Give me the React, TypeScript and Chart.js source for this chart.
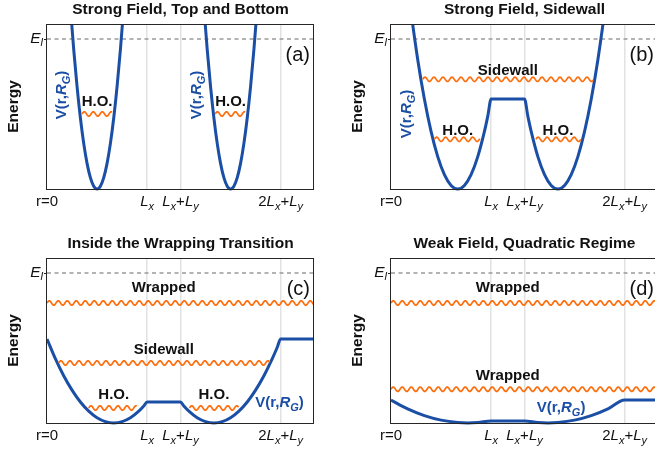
import React, { useEffect, useRef } from 'react';
import { Chart, registerables } from 'chart.js';

Chart.register(...registerables);

type Seg = { t: string; i?: boolean; sub?: boolean };

const BLUE = '#1b4fa5';
const ORANGE = '#ff6e0d';
const FONT = '"Liberation Sans", Arial, Helvetica, sans-serif';

// r axis in units where Lx = 3, Ly = 1 (perimeter 2Lx + 2Ly = 8)
const R_MIN = 0;
const R_MAX = 8;
const E_MAX = 1.1;
const E_L = 1.0;
const GRID_R = [3, 4, 7];
const TICK_R = [0, 3, 4, 7];
const TICK_TEXT: Seg[][] = [
  [{ t: 'r=0' }],
  [{ t: 'L', i: true }, { t: 'x', i: true, sub: true }],
  [{ t: 'L', i: true }, { t: 'x', i: true, sub: true }, { t: '+' }, { t: 'L', i: true }, { t: 'y', i: true, sub: true }],
  [{ t: '2' }, { t: 'L', i: true }, { t: 'x', i: true, sub: true }, { t: '+' }, { t: 'L', i: true }, { t: 'y', i: true, sub: true }],
];
const EL_TEXT: Seg[] = [{ t: 'E', i: true }, { t: 'l', i: true, sub: true }];
const V_TEXT: Seg[] = [{ t: 'V(r,' }, { t: 'R', i: true }, { t: 'G', i: true, sub: true }, { t: ')' }];

// potential V(r, R_G): [r, energy]
const vA1: [number, number][] = [
  [0.7, 1.216], [0.8, 0.931], [0.9, 0.684], [1.0, 0.475], [1.1, 0.304], [1.2, 0.171], [1.3, 0.076], [1.4, 0.019],
  [1.5, 0], [1.6, 0.019], [1.7, 0.076], [1.8, 0.171], [1.9, 0.304], [2.0, 0.475], [2.1, 0.684], [2.2, 0.931], [2.3, 1.216],
];
const vA2: [number, number][] = [
  [4.7, 1.216], [4.8, 0.931], [4.9, 0.684], [5.0, 0.475], [5.1, 0.304], [5.2, 0.171], [5.3, 0.076], [5.4, 0.019],
  [5.5, 0], [5.6, 0.019], [5.7, 0.076], [5.8, 0.171], [5.9, 0.304], [6.0, 0.475], [6.1, 0.684], [6.2, 0.931], [6.3, 1.216],
];
const vB: [number, number][] = [
  [0.6, 1.176], [0.8, 0.864], [1.0, 0.6], [1.2, 0.384], [1.4, 0.216], [1.6, 0.096], [1.8, 0.024], [2.0, 0],
  [2.2, 0.024], [2.4, 0.096], [2.6, 0.216], [2.8, 0.384], [2.9, 0.486], [3.0, 0.6], [4.0, 0.6], [4.1, 0.486],
  [4.2, 0.384], [4.4, 0.216], [4.6, 0.096], [4.8, 0.024], [5.0, 0], [5.2, 0.024], [5.4, 0.096], [5.6, 0.216],
  [5.8, 0.384], [6.0, 0.6], [6.2, 0.864], [6.4, 1.176],
];
const vC: [number, number][] = [
  [0, 0.56], [0.25, 0.429], [0.5, 0.315], [0.75, 0.219], [1.0, 0.14], [1.25, 0.079], [1.5, 0.035], [1.75, 0.009],
  [2.0, 0], [2.25, 0.009], [2.5, 0.035], [2.75, 0.079], [2.9, 0.113], [3.0, 0.14], [4.0, 0.14], [4.1, 0.113],
  [4.25, 0.079], [4.5, 0.035], [4.75, 0.009], [5.0, 0], [5.25, 0.009], [5.5, 0.035], [5.75, 0.079], [6.0, 0.14],
  [6.25, 0.219], [6.5, 0.315], [6.75, 0.429], [6.9, 0.505], [7.0, 0.56], [8.0, 0.56],
];
const vD: [number, number][] = [
  [0, 0.153], [0.5, 0.094], [1.0, 0.049], [1.5, 0.019], [2.0, 0.003], [2.3, 0], [2.6, 0.003], [3.0, 0.014],
  [4.0, 0.014], [4.4, 0.003], [4.7, 0], [5.0, 0.003], [5.5, 0.019], [6.0, 0.049], [6.5, 0.094], [7.0, 0.153], [8.0, 0.153],
];

// wavy energy levels: [energy, r from, r to]
const wavesA: [number, number, number][] = [[0.5, 1.05, 1.95], [0.5, 5.04, 5.94]];
const wavesB: [number, number, number][] = [[0.731, 0.95, 6.07], [0.331, 1.3, 2.67], [0.331, 4.34, 5.7]];
const wavesC: [number, number, number][] = [[0.8, 0, 8], [0.4, 0.35, 6.68], [0.1, 1.25, 2.7], [0.1, 4.27, 5.74]];
const wavesD: [number, number, number][] = [[0.8, 0, 8], [0.225, 0, 8]];

// level names: [text, r centre, energy of baseline]
const namesA: [string, number, number][] = [['H.O.', 1.5, 0.553], ['H.O.', 5.5, 0.553]];
const namesB: [string, number, number][] = [['Sidewall', 3.5, 0.76], ['H.O.', 2.0, 0.36], ['H.O.', 5.0, 0.36]];
const namesC: [string, number, number][] = [['Wrapped', 3.5, 0.873], ['Sidewall', 3.5, 0.462], ['H.O.', 2.0, 0.16], ['H.O.', 5.0, 0.16]];
const namesD: [string, number, number][] = [['Wrapped', 3.5, 0.873], ['Wrapped', 3.5, 0.287]];

// V(r,R_G) label anchors: [r, energy, rotated]
const vLabA: [number, number, boolean][] = [[0.57, 0.627, true], [4.62, 0.627, true]];
const vLabB: [number, number, boolean][] = [[0.6, 0.5, true]];
const vLabC: [number, number, boolean][] = [[6.24, 0.105, false]];
const vLabD: [number, number, boolean][] = [[4.37, 0.075, false]];

type PanelDef = {
  title: string;
  letter: string;
  left: number;
  top: number;
  h: number;
  v: [number, number][][];
  waves: [number, number, number][];
  names: [string, number, number][];
  vLabels: [number, number, boolean][];
};

const CANVAS_W = 327;
const PLOT_L = 47;
const PLOT_T = 24;
const PLOT_W = 267;
const PLOT_H = 165;

const PANELS: PanelDef[] = [
  { title: 'Strong Field, Top and Bottom', letter: '(a)', left: 0, top: 0, h: 226, v: [vA1, vA2], waves: wavesA, names: namesA, vLabels: vLabA },
  { title: 'Strong Field, Sidewall', letter: '(b)', left: 344, top: 0, h: 226, v: [vB], waves: wavesB, names: namesB, vLabels: vLabB },
  { title: 'Inside the Wrapping Transition', letter: '(c)', left: 0, top: 234, h: 219, v: [vC], waves: wavesC, names: namesC, vLabels: vLabC },
  { title: 'Weak Field, Quadratic Regime', letter: '(d)', left: 344, top: 234, h: 219, v: [vD], waves: wavesD, names: namesD, vLabels: vLabD },
];

function segFont(s: Seg, size: number, bold: boolean) {
  const sz = s.sub ? Math.round(size * 0.72) : size;
  return `${s.i ? 'italic ' : ''}${bold ? 'bold ' : ''}${sz}px ${FONT}`;
}

function richWidth(ctx: CanvasRenderingContext2D, segs: Seg[], size: number, bold: boolean) {
  let w = 0;
  for (const s of segs) {
    ctx.font = segFont(s, size, bold);
    w += ctx.measureText(s.t).width;
  }
  return w;
}

function drawRich(
  ctx: CanvasRenderingContext2D, segs: Seg[], x: number, y: number, size: number, bold: boolean,
  align: 'left' | 'center' | 'right', baseline: CanvasTextBaseline = 'alphabetic'
) {
  const w = richWidth(ctx, segs, size, bold);
  let cx = align === 'center' ? x - w / 2 : align === 'right' ? x - w : x;
  ctx.textAlign = 'left';
  ctx.textBaseline = baseline;
  for (const s of segs) {
    ctx.font = segFont(s, size, bold);
    ctx.fillText(s.t, cx, y + (s.sub ? size * 0.27 : 0));
    cx += ctx.measureText(s.t).width;
  }
}

function drawWave(ctx: CanvasRenderingContext2D, x1: number, x2: number, y: number) {
  const amp = 2.2;
  const wl = 9;
  ctx.beginPath();
  let first = true;
  for (let px = x1; px <= x2 + 0.01; px += 0.5) {
    const yy = y - amp * Math.sin((2 * Math.PI * (px - x1)) / wl);
    if (first) { ctx.moveTo(px, yy); first = false; } else ctx.lineTo(px, yy);
  }
  ctx.stroke();
}

function makeDecor(p: PanelDef) {
  return {
    id: 'decor',
    afterDatasetsDraw(chart: any) {
      const { ctx, chartArea: ca } = chart;
      const xs = chart.scales.x;
      const ys = chart.scales.y;
      ctx.save();
      // waves
      ctx.save();
      ctx.beginPath();
      ctx.rect(ca.left, ca.top - 6, ca.right - ca.left, ca.bottom - ca.top + 12);
      ctx.clip();
      ctx.strokeStyle = ORANGE;
      ctx.lineWidth = 1.7;
      ctx.lineJoin = 'round';
      for (const [lvl, a, b] of p.waves) {
        drawWave(ctx, xs.getPixelForValue(a), xs.getPixelForValue(b), ys.getPixelForValue(lvl));
      }
      ctx.restore();

      // frame
      ctx.strokeStyle = '#262626';
      ctx.lineWidth = 1;
      ctx.strokeRect(ca.left - 0.5, ca.top + 0.5, ca.right - ca.left, ca.bottom - ca.top);
      // E_l tick
      const ye = ys.getPixelForValue(E_L);
      ctx.beginPath();
      ctx.moveTo(ca.left - 3, Math.round(ye) + 0.5);
      ctx.lineTo(ca.left, Math.round(ye) + 0.5);
      ctx.stroke();

      ctx.fillStyle = '#111';
      // E_l label
      drawRich(ctx, EL_TEXT, ca.left - 4, ye, 15.5, false, 'right', 'middle');
      // tick labels
      TICK_R.forEach((r, k) => {
        drawRich(ctx, TICK_TEXT[k], xs.getPixelForValue(r), ca.bottom + 16.5, 15, false, 'center');
      });
      // title
      drawRich(ctx, [{ t: p.title }], (ca.left + ca.right) / 2, 14, 15.5, true, 'center');
      // Energy
      ctx.save();
      ctx.translate(17.5, (ca.top + ca.bottom) / 2);
      ctx.rotate(-Math.PI / 2);
      drawRich(ctx, [{ t: 'Energy' }], 0, 0, 15.5, true, 'center');
      ctx.restore();
      // level names
      for (const [txt, r, e] of p.names) {
        drawRich(ctx, [{ t: txt }], xs.getPixelForValue(r), ys.getPixelForValue(e), 15, true, 'center');
      }
      // panel letter
      ctx.font = `20px ${FONT}`;
      ctx.textAlign = 'right';
      ctx.textBaseline = 'middle';
      ctx.fillText(p.letter, ca.right - 4, ca.top + 31);
      // V labels
      ctx.fillStyle = BLUE;
      for (const [r, e, rot] of p.vLabels) {
        const px = xs.getPixelForValue(r);
        const py = ys.getPixelForValue(e);
        if (rot) {
          ctx.save();
          ctx.translate(px, py);
          ctx.rotate(-Math.PI / 2);
          drawRich(ctx, V_TEXT, 0, 0, 15, true, 'center');
          ctx.restore();
        } else {
          drawRich(ctx, V_TEXT, px, py, 15, true, 'left');
        }
      }
      ctx.restore();
    },
  };
}

function Panel({ p }: { p: PanelDef }) {
  const ref = useRef<HTMLCanvasElement>(null);
  useEffect(() => {
    const datasets: any[] = p.v.map((pts) => ({
      data: pts.map(([x, y]) => ({ x, y })),
      borderColor: BLUE,
      borderWidth: 3,
      pointRadius: 0,
      fill: false,
      cubicInterpolationMode: 'monotone',
      clip: { left: 0, top: 0, right: 0, bottom: 3 },
    }));
    datasets.push({
      data: [{ x: R_MIN, y: E_L }, { x: R_MAX, y: E_L }],
      borderColor: '#9a9a9a',
      borderWidth: 1.5,
      borderDash: [4, 3.5],
      pointRadius: 0,
      fill: false,
    });
    const chart = new Chart(ref.current as HTMLCanvasElement, {
      type: 'line',
      data: { datasets },
      options: {
        animation: false,
        responsive: false,
        maintainAspectRatio: false,
        layout: {
          padding: { left: PLOT_L, top: PLOT_T, right: CANVAS_W - PLOT_L - PLOT_W, bottom: p.h - PLOT_T - PLOT_H },
        },
        plugins: { legend: { display: false }, tooltip: { enabled: false }, title: { display: false } },
        scales: {
          x: {
            type: 'linear',
            min: R_MIN,
            max: R_MAX,
            afterBuildTicks: (s: any) => { s.ticks = GRID_R.map((value) => ({ value })); },
            afterFit: (s: any) => { s.height = 0; },
            ticks: { display: false },
            grid: { color: '#e2e2e2', lineWidth: 1.5, drawTicks: false },
            border: { display: false },
          },
          y: {
            type: 'linear',
            min: 0,
            max: E_MAX,
            afterFit: (s: any) => { s.width = 0; },
            ticks: { display: false },
            grid: { display: false },
            border: { display: false },
          },
        },
      } as any,
      plugins: [makeDecor(p) as any],
    });
    return () => chart.destroy();
  }, [p]);
  return (
    <canvas
      ref={ref}
      width={CANVAS_W}
      height={p.h}
      style={{ position: 'absolute', left: p.left, top: p.top, width: CANVAS_W, height: p.h }}
    />
  );
}

export default function App() {
  return (
    <div style={{ position: 'fixed', left: 0, top: 0, width: 655, height: 453, overflow: 'hidden', background: '#fff' }}>
      {PANELS.map((p) => (
        <Panel key={p.letter} p={p} />
      ))}
    </div>
  );
}
